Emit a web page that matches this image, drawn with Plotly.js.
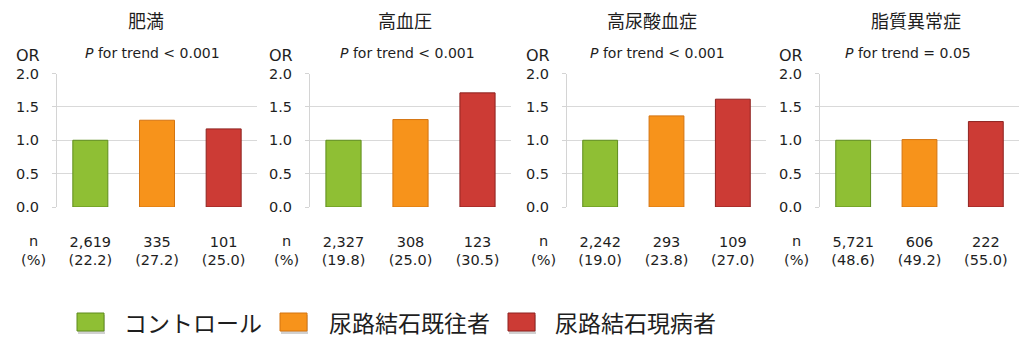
<!DOCTYPE html>
<html>
<head>
<meta charset="utf-8">
<script src="https://cdn.plot.ly/plotly-3.0.1.min.js"></script>
<style>html,body{margin:0;padding:0;background:#fff;}#chart{width:1029px;height:355px;}</style>
</head>
<body>
<div id="chart"></div>
<script>
// ---- data ----
const panels = ["肥満", "高血圧", "高尿酸血症", "脂質異常症"];
const trendTexts = ["<i>P</i> for trend < 0.001", "<i>P</i> for trend < 0.001", "<i>P</i> for trend < 0.001", "<i>P</i> for trend = 0.05"];
const groups = ["コントロール", "尿路結石既往者", "尿路結石現病者"];
const orValues = [
  [1.00, 1.30, 1.17],
  [1.00, 1.31, 1.71],
  [1.00, 1.365, 1.615],
  [1.00, 1.01, 1.28]
];
const nValues = [
  ["2,619", "335", "101"],
  ["2,327", "308", "123"],
  ["2,242", "293", "109"],
  ["5,721", "606", "222"]
];
const pctValues = [
  ["22.2", "27.2", "25.0"],
  ["19.8", "25.0", "30.5"],
  ["19.0", "23.8", "27.0"],
  ["48.6", "49.2", "55.0"]
];
const yTickVals = [0, 0.5, 1.0, 1.5, 2.0];
const yTickText = ["0.0", "0.5", "1.0", "1.5", "2.0"];

// ---- styling / layout (pixels on the 1029x355 page) ----
const W = 1029, H = 355;
const px = v => v / W;
const py = v => 1 - v / H;
const fills = ["#8fbf34", "#f7931b", "#cc3b35"];
const outlines = ["#5e8c1c", "#d47410", "#8e2320"];
const domainsPx = [[57, 257], [310, 511], [567, 766], [820, 1019]];
const titleXPx = [146, 405, 652, 916];
const trendXPx = [152, 407, 657, 908];
const txtColor = "#1e1e1e";
const font = "DejaVu Sans, Verdana, sans-serif";
const cjk = "Noto Sans CJK JP, sans-serif";

const traces = [];
const layout = {
  width: W, height: H,
  margin: {l: 0, r: 0, t: 0, b: 0},
  paper_bgcolor: "#ffffff",
  plot_bgcolor: "#ffffff",
  showlegend: false,
  bargap: 0.475,
  annotations: [],
  shapes: []
};

panels.forEach((name, i) => {
  const k = i === 0 ? "" : String(i + 1);
  traces.push({
    type: "bar",
    x: groups,
    y: orValues[i],
    xaxis: "x" + k,
    yaxis: "y" + k,
    marker: {color: fills, line: {color: outlines, width: 1}},
    hoverinfo: "x+y"
  });
  layout["xaxis" + k] = {
    domain: [px(domainsPx[i][0]), px(domainsPx[i][1])],
    anchor: "y" + k,
    type: "category",
    categoryorder: "array",
    categoryarray: groups,
    tickvals: groups,
    ticktext: groups.map((g, j) => nValues[i][j] + "<br>(" + pctValues[i][j] + ")"),
    ticks: "",
    ticklabelstandoff: 24,
    showline: false,
    showgrid: false,
    zeroline: false,
    tickfont: {family: font, size: 14.5, color: txtColor},
    fixedrange: true
  };
  layout["yaxis" + k] = {
    domain: [py(207), py(73.5)],
    anchor: "x" + k,
    range: [0, 2],
    tickvals: yTickVals,
    ticktext: yTickText,
    ticks: "outside",
    ticklen: 4,
    tickcolor: "#d4d4d4",
    ticklabelstandoff: 10,
    showline: true,
    linecolor: "#d4d4d4",
    linewidth: 1,
    showgrid: true,
    gridcolor: "#d9d9d9",
    gridwidth: 1,
    zeroline: false,
    tickfont: {family: font, size: 14.5, color: txtColor},
    fixedrange: true
  };
  // panel title
  layout.annotations.push({
    xref: "paper", yref: "paper", x: px(titleXPx[i]), y: py(20),
    xanchor: "center", yanchor: "middle", showarrow: false,
    text: name, font: {family: cjk, size: 18, color: txtColor}
  });
  // trend text
  layout.annotations.push({
    xref: "paper", yref: "paper", x: px(trendXPx[i]), y: py(53),
    xanchor: "center", yanchor: "middle", showarrow: false,
    text: trendTexts[i], font: {family: font, size: 14, color: txtColor}
  });
  // OR label
  layout.annotations.push({
    xref: "paper", yref: "paper", x: px(domainsPx[i][0] - 29), y: py(55),
    xanchor: "center", yanchor: "middle", showarrow: false,
    text: "OR", font: {family: font, size: 16, color: txtColor}
  });
  // n (%) label
  layout.annotations.push({
    xref: "paper", yref: "paper", x: px(domainsPx[i][0] - 24), y: py(250.5),
    xanchor: "center", yanchor: "middle", showarrow: false,
    text: "n<br>(%)", font: {family: font, size: 14.5, color: txtColor}
  });
});

// ---- legend (drawn manually to match the large swatches) ----
const legendSwatchPx = [77, 280, 508];
const legendTextPx = [122, 327, 553];
groups.forEach((g, j) => {
  layout.shapes.push({
    type: "rect", xref: "paper", yref: "paper",
    x0: px(legendSwatchPx[j] + 1), x1: px(legendSwatchPx[j] + 28),
    y0: py(315), y1: py(334),
    fillcolor: "rgba(0,0,0,0.18)", line: {width: 0}, layer: "below"
  });
  layout.shapes.push({
    type: "rect", xref: "paper", yref: "paper",
    x0: px(legendSwatchPx[j]), x1: px(legendSwatchPx[j] + 27),
    y0: py(313), y1: py(331),
    fillcolor: fills[j], line: {color: outlines[j], width: 1}
  });
  layout.annotations.push({
    xref: "paper", yref: "paper", x: px(legendTextPx[j]), y: py(322),
    xanchor: "left", yanchor: "middle", showarrow: false,
    text: g, font: {family: cjk, size: 23, color: txtColor}
  });
});

Plotly.newPlot("chart", traces, layout, {displayModeBar: false, staticPlot: true});
</script>
</body>
</html>
